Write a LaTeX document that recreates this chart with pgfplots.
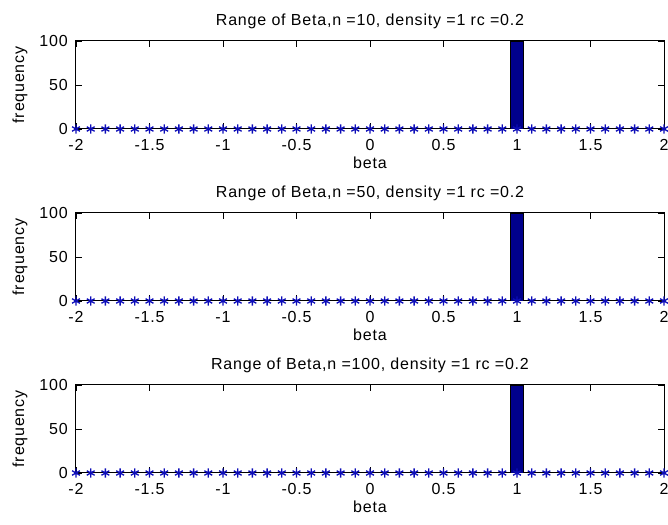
\documentclass[border=0pt]{standalone}
\usepackage{fontspec}
\setmainfont{Liberation Sans}[LetterSpace=5]
\usepackage{pgfplots}
\usepackage{pgfplotstable}
\pgfplotsset{compat=1.18}
\definecolor{barnavy}{rgb}{0,0,0.55}
\definecolor{starblue}{rgb}{0.05,0.05,0.72}
\newcommand{\mf}{\fontsize{12pt}{14pt}\selectfont}
\pgfplotsset{
  myax/.style={
    scale only axis,
    width=441pt, height=66pt,
    anchor=south west,
    xmin=-2, xmax=2, ymin=0, ymax=100,
    xtick={-2,-1.5,-1,-0.5,0,0.5,1,1.5,2},
    xticklabels={-2,-1.5,-1,-0.5,0,0.5,1,1.5,2},
    ytick={0,50,100},
    yticklabels={0,50,100},
    tick align=inside,
    tick pos=both,
    major tick length=4.5pt,
    axis line style={line width=0.75pt, black},
    every tick/.style={black, line width=0.6pt},
    xticklabel style={font=\mf, anchor=base, inner sep=0pt, yshift=-16pt},
    yticklabel style={font=\mf, anchor=east, inner sep=0pt, xshift=-6pt},
    title style={font=\mf, at={(0.5,1)}, anchor=base, inner sep=0pt, yshift=5.6pt},
    xlabel style={font=\mf, at={(0.5,0)}, anchor=base, inner sep=0pt, yshift=-30pt},
    ylabel style={font=\mf, at={(0,0.5)}, anchor=center, inner sep=0pt, yshift=42pt},
    xlabel={beta},
    ylabel={frequency},
  },
  barplot/.style={ybar, bar width=0.09, fill=barnavy, draw=black, line width=0.5pt},
  starplot/.style={only marks, mark=asterisk, mark size=3.4pt, color=starblue, mark options={line width=1pt}},
}
\pgfplotstableread{
x y
-2.0 0
-1.9 0
-1.8 0
-1.7 0
-1.6 0
-1.5 0
-1.4 0
-1.3 0
-1.2 0
-1.1 0
-1.0 0
-0.9 0
-0.8 0
-0.7 0
-0.6 0
-0.5 0
-0.4 0
-0.3 0
-0.2 0
-0.1 0
0.0 0
0.1 0
0.2 0
0.3 0
0.4 0
0.5 0
0.6 0
0.7 0
0.8 0
0.9 0
1.0 0
1.1 0
1.2 0
1.3 0
1.4 0
1.5 0
1.6 0
1.7 0
1.8 0
1.9 0
2.0 0
}\stars
\begin{document}
\begin{tikzpicture}
\useasboundingbox (0,0) rectangle (501pt,393.75pt);
\begin{axis}[myax, at={(57pt,297pt)}, title={Range of Beta,n =10, density =1 rc =0.2}]
\addplot[barplot] coordinates {(1,100)};
\addplot[starplot] table[x=x,y=y] {\stars};
\end{axis}
\begin{axis}[myax, at={(57pt,168pt)}, title={Range of Beta,n =50, density =1 rc =0.2}]
\addplot[barplot] coordinates {(1,100)};
\addplot[starplot] table[x=x,y=y] {\stars};
\end{axis}
\begin{axis}[myax, at={(57pt,39pt)}, title={Range of Beta,n =100, density =1 rc =0.2}]
\addplot[barplot] coordinates {(1,100)};
\addplot[starplot] table[x=x,y=y] {\stars};
\end{axis}
\end{tikzpicture}
\end{document}
